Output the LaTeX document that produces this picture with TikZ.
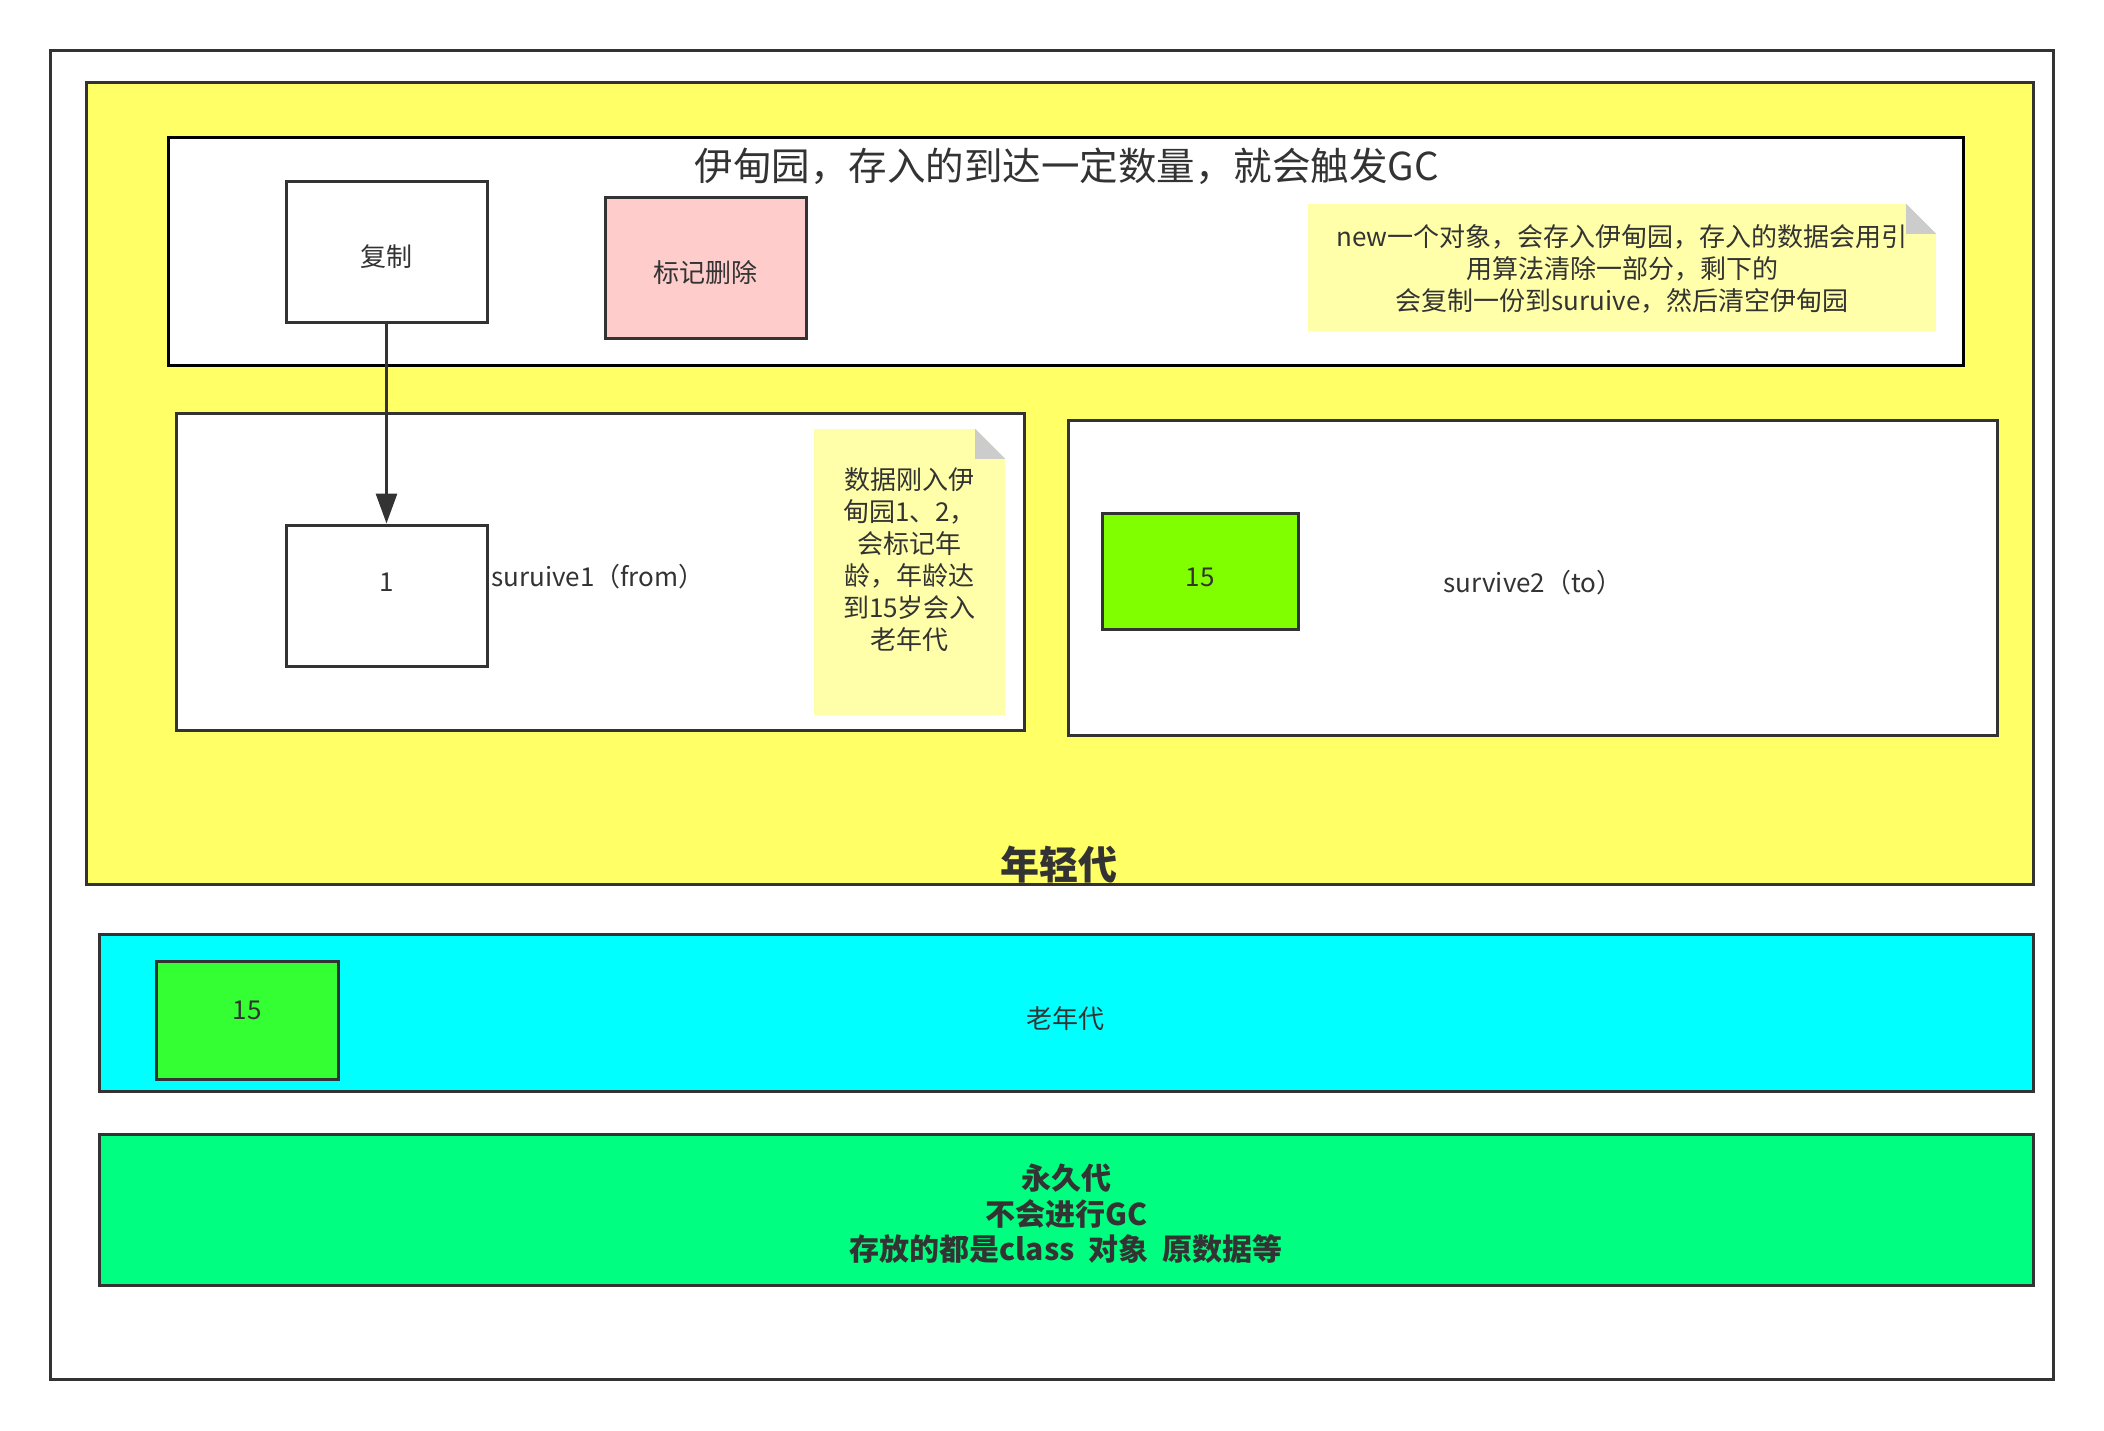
\documentclass[tikz,border=0pt]{standalone}
\usepackage{fontspec}
\setmainfont{Noto Sans CJK SC}
\usepackage{tikz}
\usetikzlibrary{arrows.meta,positioning}

\definecolor{inkgray}{HTML}{333333}
\definecolor{younggen}{HTML}{FFFF66}
\definecolor{notefill}{HTML}{FFFFAA}
\definecolor{foldgray}{HTML}{CCCCCC}
\definecolor{markpink}{HTML}{FFCCCC}
\definecolor{agegreen}{HTML}{80FF00}
\definecolor{oldcyan}{HTML}{00FFFF}
\definecolor{oldgreen}{HTML}{33FF33}
\definecolor{permgreen}{HTML}{00FF80}

\begin{document}
\begin{tikzpicture}[x=1pt, y=-1pt,
    every node/.style={text=inkgray, inner sep=0pt},
    region/.style={draw=inkgray, line width=3pt},
    block/.style={draw=inkgray, line width=3pt, fill=white, minimum width=201pt, minimum height=141pt},
    memo/.style={fill=notefill, align=center},
    txt/.style={font=\fontsize{26}{32}\selectfont},
    flow/.style={draw=inkgray, line width=3pt, -{Stealth[length=30pt, width=21pt, inset=0pt]}}]
    \useasboundingbox (0,0) rectangle (2104,1430);

    % outer frame and young generation
    \draw[region] (50,50) rectangle (2053,1379);
    \draw[region, fill=younggen] (86,82) rectangle (2033,884);

    % eden
    \draw[line width=3pt, fill=white] (168,137) rectangle (1963,365);
    \node[font=\fontsize{38.5}{44}\selectfont] (edentitle) at (1067,166) {伊甸园，存入的到达一定数量，就会触发GC};
    \node[block, txt, text height=30pt, text depth=0pt] (copy) at (386.5,251.5) {复制};
    \node[block, txt, text height=30pt, text depth=0pt, fill=markpink] (mark) at (705.5,267.5) {标记删除};
    \node[memo, txt, minimum width=628pt, minimum height=127pt, text depth=0pt] (gcnote) at (1622,267.5)
        {new一个对象，会存入伊甸园，存入的数据会用引\\用算法清除一部分，剩下的\\会复制一份到suruive，然后清空伊甸园};
    \fill[white] ([xshift=-30pt]gcnote.north east) -- (gcnote.north east) -- ([yshift=-30pt]gcnote.north east) -- cycle;
    \fill[foldgray] ([xshift=-30pt]gcnote.north east) -- ([xshift=-30pt,yshift=-30pt]gcnote.north east) -- ([yshift=-30pt]gcnote.north east) -- cycle;

    % survivor from
    \draw[region, fill=white] (176,413) rectangle (1024,730);
    \node[block, label={[txt, yshift=13pt]center:1}] (one) at (386.5,595.5) {};
    \node[txt, anchor=west] (fromlabel) at (491,577) {suruive1（from）};
    \node[memo, txt, minimum width=191pt, minimum height=286pt, text depth=26pt] (agenote) at (909.5,572)
        {数据刚入伊\\甸园1、2，\\会标记年\\龄，年龄达\\到15岁会入\\老年代};
    \fill[white] ([xshift=-30pt]agenote.north east) -- (agenote.north east) -- ([yshift=-30pt]agenote.north east) -- cycle;
    \fill[foldgray] ([xshift=-30pt]agenote.north east) -- ([xshift=-30pt,yshift=-30pt]agenote.north east) -- ([yshift=-30pt]agenote.north east) -- cycle;

    % survivor to
    \draw[region, fill=white] (1068,420) rectangle (1997,735);
    \node[block, txt, text height=30pt, text depth=0pt, fill=agegreen, minimum width=196pt, minimum height=116pt] (agedobj) at (1200,571) {15};
    \node[txt] (tolabel) at (1533,583) {survive2（to）};

    \node[font=\fontsize{39}{44}\selectfont\bfseries] (younglabel) at (1059,865) {年轻代};

    % old generation
    \draw[region, fill=oldcyan] (99,934) rectangle (2033,1091);
    \node[block, fill=oldgreen, minimum width=182pt, minimum height=118pt, label={[txt, yshift=10pt]center:15}] (oldobj) at (247,1020) {};
    \node[txt] (oldlabel) at (1065,1019) {老年代};

    % permanent generation
    \draw[region, fill=permgreen] (99,1134) rectangle (2033,1285);
    \node[align=center, font=\fontsize{30}{35.5}\selectfont\bfseries] (permlabel) at (1066,1214)
        {永久代\\不会进行GC\\存放的都是class\ \ 对象\ \ 原数据等};

    \draw[flow] (copy) -- (one);
\end{tikzpicture}
\end{document}
